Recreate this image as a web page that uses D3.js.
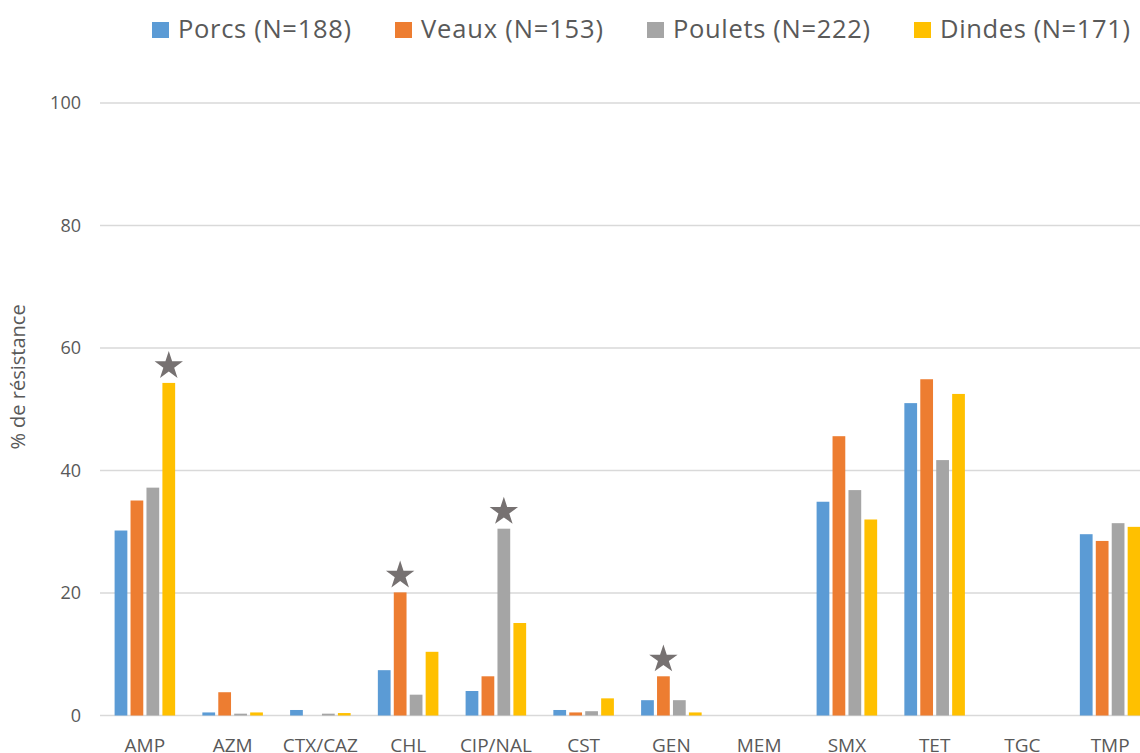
<!DOCTYPE html>
<html>
<head>
<meta charset="utf-8">
<script src="https://cdn.jsdelivr.net/npm/d3@7"></script>
<style>
  body { margin: 0; background: #fff; overflow: hidden; }
  text { font-family: "Open Sans", sans-serif; fill: #595959; }
</style>
</head>
<body>
<div id="chart"></div>
<script>
// data
const categories = ["AMP", "AZM", "CTX/CAZ", "CHL", "CIP/NAL", "CST", "GEN", "MEM", "SMX", "TET", "TGC", "TMP"];
const seriesNames = ["Porcs (N=188)", "Veaux (N=153)", "Poulets (N=222)", "Dindes (N=171)"];
const porcs   = [30.2, 0.5, 0.9, 7.4, 4.0, 0.9, 2.5, 0, 34.9, 51.0, 0, 29.6];
const veaux   = [35.1, 3.8, 0, 20.1, 6.4, 0.5, 6.4, 0, 45.6, 54.9, 0, 28.5];
const poulets = [37.2, 0.3, 0.3, 3.4, 30.5, 0.7, 2.5, 0, 36.8, 41.7, 0, 31.4];
const dindes  = [54.3, 0.5, 0.4, 10.4, 15.1, 2.8, 0.5, 0, 32.0, 52.5, 0, 30.8];
const yTicks = [0, 20, 40, 60, 80, 100];
// significant differences: [category, series index]
const stars = [["AMP", 3], ["CHL", 1], ["CIP/NAL", 2], ["GEN", 1]];

const values = [porcs, veaux, poulets, dindes];
const colors = ["#5B9BD5", "#ED7D31", "#A5A5A5", "#FFC000"];

const width = 1140, height = 753;

const svg = d3.select("#chart")
  .append("svg")
  .attr("width", width)
  .attr("height", height);

const x0 = d3.scaleBand()
  .domain(categories)
  .range([101, 1154])
  .paddingInner(0.31)
  .paddingOuter(0.155);

const x1 = d3.scaleBand()
  .domain(d3.range(4))
  .range([0, x0.bandwidth()])
  .paddingInner(0.2);

const y = d3.scaleLinear()
  .domain([0, 100])
  .range([715.5, 103]);

// gridlines
svg.append("g")
  .selectAll("line")
  .data(yTicks)
  .join("line")
  .attr("x1", 100)
  .attr("x2", width)
  .attr("y1", d => y(d))
  .attr("y2", d => y(d))
  .attr("stroke", "#d9d9d9")
  .attr("stroke-width", 1.3);

// y tick labels
svg.append("g")
  .selectAll("text")
  .data(yTicks)
  .join("text")
  .attr("x", 81)
  .attr("y", d => y(d))
  .attr("dy", "0.35em")
  .attr("text-anchor", "end")
  .style("font-size", "18px")
  .text(d => d);

// y axis title
svg.append("text")
  .attr("transform", "translate(25, 377) rotate(-90)")
  .attr("text-anchor", "middle")
  .style("font-size", "20px")
  .text("% de résistance");

// bars
const groups = svg.append("g")
  .selectAll("g")
  .data(categories)
  .join("g")
  .attr("transform", d => `translate(${x0(d)},0)`);

groups.selectAll("rect")
  .data((d, i) => values.map((s, j) => ({ s: j, v: s[i] })))
  .join("rect")
  .attr("x", d => x1(d.s))
  .attr("y", d => y(d.v))
  .attr("width", x1.bandwidth())
  .attr("height", d => y(0) - y(d.v))
  .attr("fill", d => colors[d.s]);

// x labels (cut by the bottom edge, as in the source)
svg.append("g")
  .selectAll("text")
  .data(categories)
  .join("text")
  .attr("x", d => x0(d) + x0.bandwidth() / 2)
  .attr("y", 752)
  .attr("text-anchor", "middle")
  .style("font-size", "19px")
  .text(d => d);

// stars above significant bars
const star = d3.symbol().type(d3.symbolStar).size(250);
svg.append("g")
  .selectAll("path")
  .data(stars)
  .join("path")
  .attr("d", star)
  .attr("fill", "#767171")
  .attr("transform", d => {
    const i = categories.indexOf(d[0]);
    const cx = x0(d[0]) + x1(d[1]) + x1.bandwidth() / 2;
    const cy = y(values[d[1]][i]) - 17;
    return `translate(${cx},${cy})`;
  });

// legend
const legendX = [152, 395, 647, 914];
const legendLen = [173, 182, 197, 190];
const legend = svg.append("g")
  .selectAll("g")
  .data(seriesNames)
  .join("g")
  .attr("transform", (d, i) => `translate(${legendX[i]}, 22)`);

legend.append("rect")
  .attr("width", 17)
  .attr("height", 16)
  .attr("fill", (d, i) => colors[i]);

legend.append("text")
  .attr("x", 26)
  .attr("y", 16)
  .attr("textLength", (d, i) => legendLen[i])
  .attr("lengthAdjust", "spacing")
  .style("font-size", "25.5px")
  .text(d => d);
</script>
</body>
</html>
